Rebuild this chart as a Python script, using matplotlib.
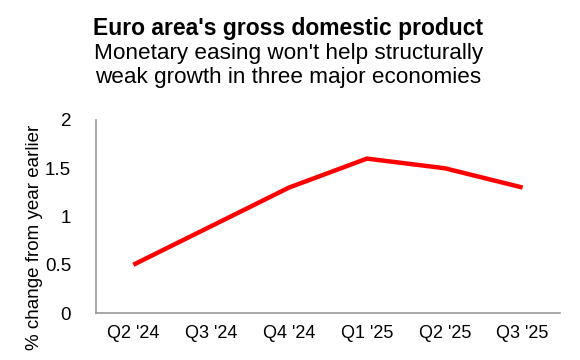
import matplotlib
matplotlib.use("Agg")
from matplotlib import pyplot as plt

quarters = ["Q2 '24", "Q3 '24", "Q4 '24", "Q1 '25", "Q2 '25", "Q3 '25"]
gdp_growth = [0.5, 0.9, 1.3, 1.6, 1.5, 1.3]
y_ticks = [0, 0.5, 1, 1.5, 2]
y_tick_labels = ["0", "0.5", "1", "1.5", "2"]

plt.rcParams['font.family'] = ['Liberation Sans', 'DejaVu Sans']

fig = plt.figure(figsize=(5.8, 3.6), dpi=100)
ax = fig.add_axes([96 / 580, 1 - 313 / 360, (560 - 96) / 580, (313 - 120) / 360])

x = list(range(len(quarters)))
ax.plot(x, gdp_growth, color='#ff0000', linewidth=3.2, solid_capstyle='butt')

ax.set_xlim(-0.48, len(quarters) - 0.52)
ax.set_ylim(0, 2)
ax.set_xticks(x)
ax.set_xticklabels(quarters, fontsize=13)
ax.set_yticks(y_ticks)
ax.set_yticklabels(y_tick_labels, fontsize=13.5)
ax.tick_params(axis='both', length=0)
ax.tick_params(axis='y', pad=18)
ax.tick_params(axis='x', pad=9)

for side in ['top', 'right']:
    ax.spines[side].set_visible(False)
for side in ['left', 'bottom']:
    ax.spines[side].set_color('#999999')
    ax.spines[side].set_linewidth(1.2)

fig.text(35 / 580, 1 - 237 / 360, "% change from year earlier", rotation=90,
         ha='center', va='center', fontsize=13.5)

fig.text(0.497, 1 - 28 / 360, "Euro area's gross domestic product",
         ha='center', va='center', fontsize=16.5, fontweight='bold')
fig.text(0.497, 1 - 53 / 360, "Monetary easing won't help structurally",
         ha='center', va='center', fontsize=16.2)
fig.text(0.497, 1 - 77 / 360, "weak growth in three major economies",
         ha='center', va='center', fontsize=16.2)

fig.savefig("out.png", dpi=100)
